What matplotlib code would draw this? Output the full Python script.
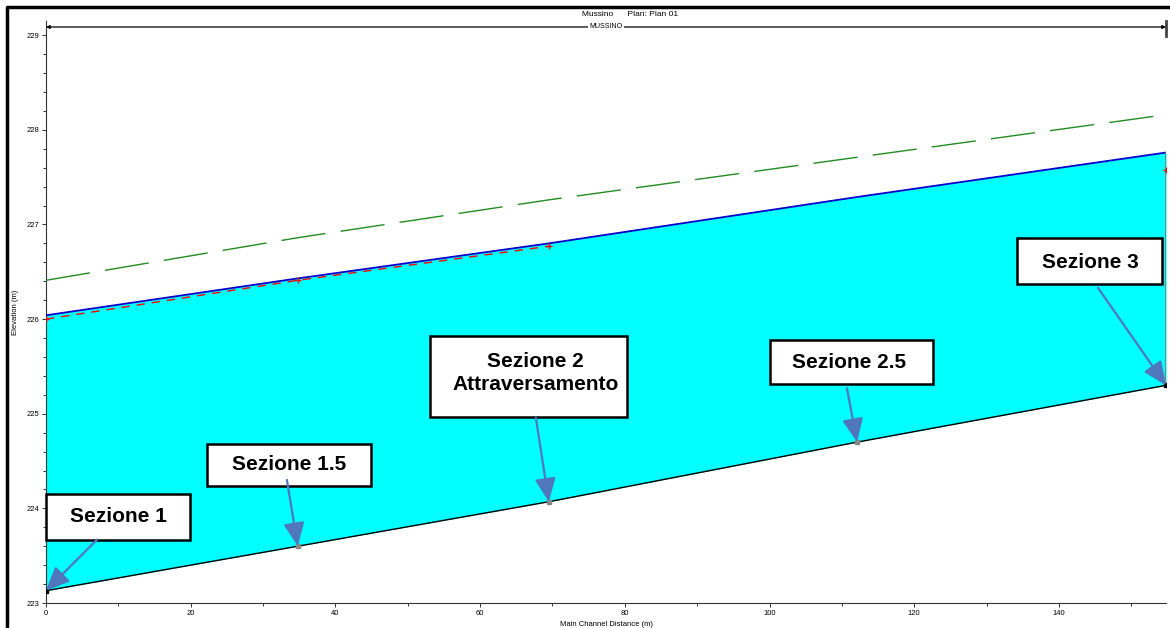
import matplotlib
matplotlib.use("Agg")
import matplotlib.pyplot as plt
import numpy as np
from matplotlib.patches import Rectangle
from matplotlib.lines import Line2D
from matplotlib.ticker import MultipleLocator

plt.rcParams["font.family"] = ["Liberation Sans", "DejaVu Sans"]

# profile data (main channel distance in m, elevations in m)
STATION = [0.0, 34.8, 69.5, 112.1, 154.8]
BED = [223.13, 223.60, 224.07, 224.70, 225.30]
WS = [226.04, 226.43, 226.80, 227.29, 227.76]
CRIT = [226.00, 226.41, 226.77, np.nan, 227.58]
EGL = [226.41, 226.86, 227.26, 227.71, 228.16]

SECTION_LABELS = ["Sezione 1", "Sezione 1.5", "Sezione 2\nAttraversamento", "Sezione 2.5", "Sezione 3"]
# box layout (data coords): x0, x1, y0, y1, text x, text y, arrow start x, arrow start y
BOXES = [
    (0.0, 19.9, 223.67, 224.155, 9.95, 223.91, 7.05, 223.67),
    (22.25, 44.9, 224.24, 224.68, 33.6, 224.46, 33.3, 224.30),
    (53.1, 80.3, 224.97, 225.82, 67.7, 225.43, 67.7, 224.96),
    (100.1, 122.6, 225.31, 225.78, 111.0, 225.54, 110.7, 225.27),
    (134.2, 154.25, 226.37, 226.86, 144.3, 226.60, 145.4, 226.33),
]

fig = plt.figure(figsize=(11.7, 6.28), dpi=100)
ax = fig.add_axes([46 / 1170, 25 / 628, 1120 / 1170, 582 / 628])

ax.fill_between(STATION, BED, WS, color="#00FFFF", linewidth=0, zorder=1)
ax.plot(STATION, BED, color="black", linewidth=1.0, zorder=3)
ax.plot(STATION, WS, color="#0000CC", linewidth=1.3, zorder=3)
ax.plot(STATION, CRIT, color="red", linewidth=1.0, linestyle=(0, (6, 5)),
        marker="+", markersize=5, markeredgewidth=1.0, zorder=4)
ax.plot(STATION, EGL, color="#228B22", linewidth=1.0, linestyle=(0, (32, 11)), zorder=3)
ax.plot([STATION[-1], STATION[-1]], [BED[-1], WS[-1]], color="#777777", linewidth=1.2, zorder=3)
ax.plot(STATION[1:4], BED[1:4], linestyle="none", marker="s", markersize=2.5,
        color="#888888", zorder=4)
ax.plot([STATION[0], STATION[-1]], [BED[0], BED[-1]], linestyle="none", marker="s",
        markersize=2.5, color="black", zorder=4)

ax.set_xlim(0, 154.8)
ax.set_ylim(223, 229.15)

for s in ["top", "right"]:
    ax.spines[s].set_visible(False)
ax.spines["left"].set_color("#333333")
ax.spines["bottom"].set_color("#333333")

ax.xaxis.set_major_locator(MultipleLocator(20))
ax.xaxis.set_minor_locator(MultipleLocator(10))
ax.yaxis.set_major_locator(MultipleLocator(1))
ax.yaxis.set_minor_locator(MultipleLocator(0.2))
ax.tick_params(which="both", labelsize=5.5, length=3, width=0.7, color="#333333", pad=2)
ax.tick_params(which="minor", length=2)

ax.set_xlabel("Main Channel Distance (m)", fontsize=5.5, labelpad=3)
ax.set_ylabel("Elevation (m)", fontsize=5.5, labelpad=5)

# reach line at top
ax.annotate("", xy=(STATION[0], 0.9897), xytext=(STATION[-1], 0.9897),
            xycoords=("data", "axes fraction"), textcoords=("data", "axes fraction"),
            arrowprops=dict(arrowstyle="<|-|>", color="black", linewidth=0.9,
                            mutation_scale=5, shrinkA=0, shrinkB=0))
ax.text(np.mean([STATION[0], STATION[-1]]), 0.9897, "MUSSINO", fontsize=5,
        ha="center", va="center", transform=ax.get_xaxis_transform(),
        bbox=dict(facecolor="white", edgecolor="none", pad=1))
ax.plot([STATION[-1], STATION[-1]], [0.975, 1.0], color="#444444", linewidth=2,
        transform=ax.get_xaxis_transform(), clip_on=False)
fig.text(630 / 1170, 1 - 14 / 628, "Mussino      Plan: Plan 01", fontsize=6,
         ha="center", va="center")

# section labels
for label, b in zip(SECTION_LABELS, BOXES):
    ax.add_patch(Rectangle((b[0], b[2]), b[1] - b[0], b[3] - b[2], facecolor="white",
                           edgecolor="black", linewidth=1.8, zorder=6, clip_on=False))
    ax.text(b[4], b[5], label, fontsize=15, fontweight="bold", ha="center", va="center",
            zorder=7, linespacing=1.22)
for i, b in enumerate(BOXES):
    ax.annotate("", xy=(STATION[i], BED[i]), xytext=(b[6], b[7]),
                arrowprops=dict(arrowstyle="-|>,head_length=0.9,head_width=0.4",
                                color="#4F77BE", linewidth=1.6, mutation_scale=16,
                                shrinkA=0, shrinkB=0),
                zorder=8)

# outer frame
fig.add_artist(Line2D([7 / 1170, 7 / 1170, 1.0], [0.0, 1 - 7 / 628, 1 - 7 / 628],
                      color="black", linewidth=2.5, transform=fig.transFigure))

fig.savefig("out.png", dpi=100)
